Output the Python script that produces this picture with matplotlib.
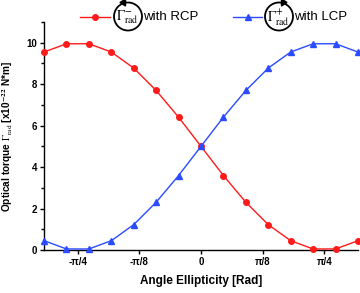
import numpy as np
import matplotlib
matplotlib.use("Agg")
import matplotlib.pyplot as plt
from matplotlib.lines import Line2D
from matplotlib.patches import Ellipse, Polygon

plt.rcParams['font.family'] = ['Liberation Sans', 'DejaVu Sans']
plt.rcParams['mathtext.fontset'] = 'stix'

# Data
ellipticity = [-1.0, -0.857, -0.714, -0.571, -0.429, -0.286, -0.143, 0.0,
               0.143, 0.286, 0.429, 0.571, 0.714, 0.857, 1.0]
torque_rcp = [9.55, 9.95, 9.95, 9.55, 8.78, 7.70, 6.41, 5.00,
              3.59, 2.30, 1.22, 0.45, 0.05, 0.05, 0.45]
torque_lcp = [0.45, 0.05, 0.05, 0.45, 1.22, 2.30, 3.59, 5.00,
              6.41, 7.70, 8.78, 9.55, 9.95, 9.95, 9.55]
xtick_vals = [-np.pi/4, -np.pi/8, 0, np.pi/8, np.pi/4]
xtick_labels = ['-π/4', '-π/8', '0', 'π/8', 'π/4']
yticks = [0, 2, 4, 6, 8, 10]

W, H = 360, 293
fig = plt.figure(figsize=(W/100, H/100), dpi=100)
ax = fig.add_axes([44/W, 1-250/H, (358-44)/W, (250-22)/H])

red = '#ff1a1a'
blue = '#2a4bff'
ax.plot(ellipticity, torque_rcp, color=red, marker='o', ms=4, lw=1.0, clip_on=False, zorder=3)
ax.plot(ellipticity, torque_lcp, color=blue, marker='^', ms=4, lw=1.0, clip_on=False, zorder=3)

ax.set_xlim(-1.0, 1.0)
ax.set_ylim(0, 11)
ax.set_xticks(xtick_vals)
ax.set_xticklabels(xtick_labels, fontweight='bold', fontsize=7)
ax.set_yticks(yticks)
ax.set_yticklabels([str(v) for v in yticks], fontweight='bold', fontsize=7)
ax.set_yticks([1, 3, 5, 7, 9, 11], minor=True)
ax.tick_params(axis='both', direction='out', length=3, width=1, pad=2)
ax.tick_params(axis='y', which='minor', direction='out', length=2, width=1)
for s in ['top', 'right']:
    ax.spines[s].set_visible(False)
for s in ['left', 'bottom']:
    ax.spines[s].set_linewidth(1.0)

ax.set_xlabel('Angle Ellipticity [Rad]', fontsize=8.5, fontweight='bold', labelpad=6)
ax.set_ylabel(r'Optical torque $\Gamma_{\mathrm{rad}}$ [x10$^{\mathbf{-22}}$ N*m]',
              fontsize=7.3, fontweight='bold', labelpad=8)

def fx(x):
    return x / W

def fy(y):
    return 1 - y / H

# Custom legend
def legend_item(x0, x1, y, color, marker, cx, sign, arrow_left, tx, label):
    fig.add_artist(Line2D([fx(x0), fx(x1)], [fy(y), fy(y)], color=color, lw=1.0,
                          transform=fig.transFigure))
    fig.add_artist(Line2D([fx((x0+x1)/2)], [fy(y)], color=color, marker=marker, ms=4,
                          transform=fig.transFigure))
    r = 14
    cy = 16.5
    fig.add_artist(Ellipse((fx(cx), fy(cy)), 2*r/W, 2*r/H, fill=False, ec='black', lw=1.3,
                           transform=fig.transFigure))
    ax_ = cx - 4 if arrow_left else cx + 4
    d = -1 if arrow_left else 1
    tri = [(fx(ax_ + d*4), fy(cy - r)), (fx(ax_ - d*1.5), fy(cy - r - 3.5)),
           (fx(ax_ - d*1.5), fy(cy - r + 3.5))]
    fig.add_artist(Polygon(tri, closed=True, color='black', transform=fig.transFigure))
    fig.text(fx(cx - 1), fy(cy + 1), r'$\Gamma_{\mathrm{rad}}^{%s}$' % sign, fontsize=10,
             ha='center', va='center')
    fig.text(fx(tx), fy(cy), label, fontsize=9.5, ha='left', va='center')

legend_item(80, 110, 16.5, red, 'o', 128, '-', True, 143, 'with RCP')
legend_item(233, 262, 16.5, blue, '^', 279, '+', False, 294, 'with LCP')

fig.savefig('out.png', dpi=100)
